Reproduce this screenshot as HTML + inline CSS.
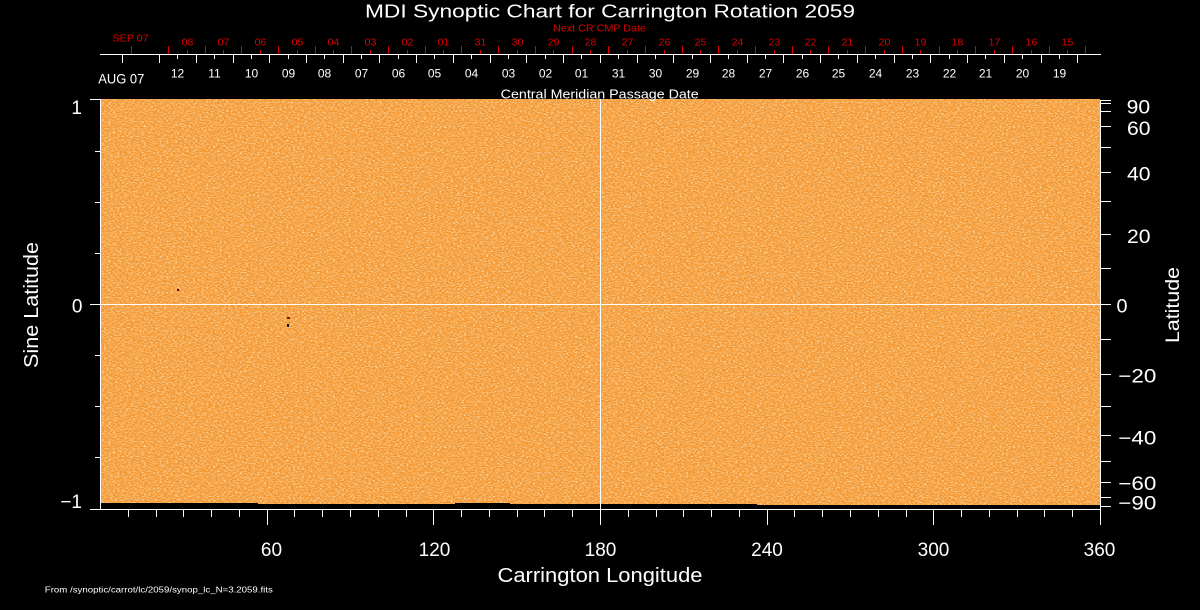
<!DOCTYPE html>
<html>
<head>
<meta charset="utf-8">
<style>
html,body{margin:0;padding:0;background:#000;}
svg{display:block;}
text{font-family:"Liberation Sans",sans-serif;}
</style>
</head>
<body>
<svg width="1200" height="610" viewBox="0 0 1200 610" xmlns="http://www.w3.org/2000/svg">
<defs>
<filter id="tex" filterUnits="userSpaceOnUse" x="101" y="99" width="999" height="406" color-interpolation-filters="sRGB">
<feTurbulence type="fractalNoise" baseFrequency="0.45 0.8" numOctaves="3" seed="7" result="t"/>
<feColorMatrix in="t" type="matrix" values="0 0 0 0 0.99  0 0 0 0 0.84  0 0 0 0 0.62  2.6 0 0 0 -1.05" result="l"/>
<feFlood flood-color="#f3952f" result="o"/>
<feComposite in="l" in2="o" operator="over"/>
</filter>
</defs>
<rect width="1200" height="610" fill="#000"/>

<!-- image -->
<rect x="101" y="99" width="999" height="406" fill="#f5a64d" filter="url(#tex)"/>
<rect x="101" y="503" width="157" height="6" fill="#000"/>
<rect x="258" y="504" width="197" height="5" fill="#000"/>
<rect x="455" y="503" width="55" height="6" fill="#000"/>
<rect x="510" y="504" width="247" height="5" fill="#000"/>
<rect x="757" y="505" width="343" height="4" fill="#000"/>
<rect x="177" y="289" width="2" height="2" fill="#5a0c00"/>
<rect x="287" y="317" width="3" height="2" fill="#8a1000"/>
<rect x="287" y="324" width="2" height="3" fill="#111"/>

<!-- grid lines -->
<g stroke="#fff" stroke-width="1" fill="none">
<path d="M600.5 99V509"/>
<path d="M100 304.5H1100"/>
<path d="M100.5 99V509.5"/>
<path d="M1100.5 100V525"/>
<path d="M90 509.5H1101"/>
<path d="M90 99.5H100 M90 304.5H100 M95 151.5H100 M95 202.5H100 M95 253.5H100 M95 355.5H100 M95 406.5H100 M95 457.5H100"/>
<path d="M1101 100.5h10 M1101 103.5h10 M1101 111.5h10 M1101 126.5h10 M1101 147.5h10 M1101 172.5h10 M1101 201.5h10 M1101 234.5h10 M1101 268.5h10 M1101 304.5h10 M1101 339.5h10 M1101 374.5h10 M1101 406.5h10 M1101 435.5h10 M1101 461.5h10 M1101 482.5h10 M1101 497.5h10 M1101 506.5h10"/>
<path d="M128.5 510v7 M156.5 510v7 M183.5 510v7 M211.5 510v7 M239.5 510v7 M267.5 510v15 M294.5 510v7 M322.5 510v7 M350.5 510v7 M378.5 510v7 M406.5 510v7 M433.5 510v15 M461.5 510v7 M489.5 510v7 M517.5 510v7 M544.5 510v7 M572.5 510v7 M600.5 510v15 M628.5 510v7 M656.5 510v7 M683.5 510v7 M711.5 510v7 M739.5 510v7 M767.5 510v15 M794.5 510v7 M822.5 510v7 M850.5 510v7 M878.5 510v7 M906.5 510v7 M933.5 510v15 M961.5 510v7 M989.5 510v7 M1017.5 510v7 M1044.5 510v7 M1072.5 510v7"/>
<path d="M100 54.5H1101"/>
<path d="M122.5 55v8 M159.5 55v8 M196.5 55v8 M233.5 55v8 M269.5 55v8 M306.5 55v8 M343.5 55v8 M379.5 55v8 M416.5 55v8 M453.5 55v8 M490.5 55v8 M526.5 55v8 M563.5 55v8 M600.5 55v8 M637.5 55v8 M673.5 55v8 M710.5 55v8 M747.5 55v8 M783.5 55v8 M820.5 55v8 M857.5 55v8 M894.5 55v8 M930.5 55v8 M967.5 55v8 M1004.5 55v8 M1041.5 55v8 M1077.5 55v8"/>
<path d="M177.5 55v4 M214.5 55v4 M251.5 55v4 M288.5 55v4 M324.5 55v4 M361.5 55v4 M398.5 55v4 M434.5 55v4 M471.5 55v4 M508.5 55v4 M545.5 55v4 M581.5 55v4 M618.5 55v4 M655.5 55v4 M692.5 55v4 M728.5 55v4 M765.5 55v4 M802.5 55v4 M838.5 55v4 M875.5 55v4 M912.5 55v4 M949.5 55v4 M985.5 55v4 M1022.5 55v4 M1059.5 55v4"/>
</g>
<g stroke="#dd0000" stroke-width="1" fill="none">
<path d="M131.5 46v8 M168.5 46v8 M205.5 46v8 M241.5 46v8 M278.5 46v8 M315.5 46v8 M351.5 46v8 M388.5 46v8 M425.5 46v8 M461.5 46v8 M498.5 46v8 M535.5 46v8 M572.5 46v8 M608.5 46v8 M645.5 46v8 M682.5 46v8 M718.5 46v8 M755.5 46v8 M792.5 46v8 M828.5 46v8 M865.5 46v8 M902.5 46v8 M939.5 46v8 M975.5 46v8 M1012.5 46v8 M1049.5 46v8 M1085.5 46v8"/>
<path d="M187.5 50v4 M223.5 50v4 M260.5 50v4 M297.5 50v4 M333.5 50v4 M370.5 50v4 M407.5 50v4 M443.5 50v4 M480.5 50v4 M517.5 50v4 M553.5 50v4 M590.5 50v4 M627.5 50v4 M664.5 50v4 M700.5 50v4 M737.5 50v4 M774.5 50v4 M810.5 50v4 M847.5 50v4 M884.5 50v4 M920.5 50v4 M957.5 50v4 M994.5 50v4 M1031.5 50v4 M1067.5 50v4"/>
</g>

<text x="365" y="17.5" font-size="18" fill="#fff" textLength="490" lengthAdjust="spacingAndGlyphs">MDI Synoptic Chart for Carrington Rotation 2059</text>
<text x="553" y="31.7" font-size="10.5" fill="#dd0000" textLength="93" lengthAdjust="spacingAndGlyphs">Next CR CMP Date</text>
<text x="112.7" y="41.7" font-size="10" fill="#dd0000" textLength="36" lengthAdjust="spacingAndGlyphs">SEP 07</text>

<g font-size="10.5" fill="#dd0000" text-anchor="middle">
<text x="187.5" y="45.7">08</text><text x="223.5" y="45.7">07</text><text x="260.5" y="45.7">06</text><text x="297.5" y="45.7">05</text><text x="333.5" y="45.7">04</text><text x="370.5" y="45.7">03</text><text x="407.5" y="45.7">02</text><text x="443.5" y="45.7">01</text><text x="480.5" y="45.7">31</text><text x="517.5" y="45.7">30</text><text x="553.5" y="45.7">29</text><text x="590.5" y="45.7">28</text><text x="627.5" y="45.7">27</text><text x="664.5" y="45.7">26</text><text x="700.5" y="45.7">25</text><text x="737.5" y="45.7">24</text><text x="774.5" y="45.7">23</text><text x="810.5" y="45.7">22</text><text x="847.5" y="45.7">21</text><text x="884.5" y="45.7">20</text><text x="920.5" y="45.7">19</text><text x="957.5" y="45.7">18</text><text x="994.5" y="45.7">17</text><text x="1031.5" y="45.7">16</text><text x="1067.5" y="45.7">15</text>
</g>

<text x="98.3" y="83.3" font-size="14" fill="#fff" textLength="46" lengthAdjust="spacingAndGlyphs">AUG 07</text>
<g font-size="12" fill="#fff" text-anchor="middle">
<text x="177.5" y="77.7">12</text><text x="214.5" y="77.7">11</text><text x="251.5" y="77.7">10</text><text x="288.5" y="77.7">09</text><text x="324.5" y="77.7">08</text><text x="361.5" y="77.7">07</text><text x="398.5" y="77.7">06</text><text x="434.5" y="77.7">05</text><text x="471.5" y="77.7">04</text><text x="508.5" y="77.7">03</text><text x="545.5" y="77.7">02</text><text x="581.5" y="77.7">01</text><text x="618.5" y="77.7">31</text><text x="655.5" y="77.7">30</text><text x="692.5" y="77.7">29</text><text x="728.5" y="77.7">28</text><text x="765.5" y="77.7">27</text><text x="802.5" y="77.7">26</text><text x="838.5" y="77.7">25</text><text x="875.5" y="77.7">24</text><text x="912.5" y="77.7">23</text><text x="949.5" y="77.7">22</text><text x="985.5" y="77.7">21</text><text x="1022.5" y="77.7">20</text><text x="1059.5" y="77.7">19</text>
</g>
<text x="500.7" y="98.5" font-size="12.5" fill="#fff" textLength="198" lengthAdjust="spacingAndGlyphs">Central Meridian Passage Date</text>

<g font-size="19" fill="#fff" text-anchor="end">
<text x="82" y="114">1</text>
<text x="82.5" y="312.7">0</text>
<text x="82" y="508">−1</text>
</g>
<text transform="translate(38,305) rotate(-90)" font-size="20" fill="#fff" text-anchor="middle" textLength="126" lengthAdjust="spacingAndGlyphs">Sine Latitude</text>

<g font-size="19" fill="#fff">
<text x="1126.7" y="113.5" textLength="23.5" lengthAdjust="spacingAndGlyphs">90</text>
<text x="1127" y="135" textLength="23.5" lengthAdjust="spacingAndGlyphs">60</text>
<text x="1127" y="180.7" textLength="23.5" lengthAdjust="spacingAndGlyphs">40</text>
<text x="1127" y="243" textLength="23.5" lengthAdjust="spacingAndGlyphs">20</text>
<text x="1116.5" y="312.7" textLength="11" lengthAdjust="spacingAndGlyphs">0</text>
<text x="1118.3" y="382.7" textLength="38" lengthAdjust="spacingAndGlyphs">−20</text>
<text x="1118.3" y="444.3" textLength="38" lengthAdjust="spacingAndGlyphs">−40</text>
<text x="1118.3" y="490" textLength="38" lengthAdjust="spacingAndGlyphs">−60</text>
<text x="1118.3" y="509.3" textLength="38" lengthAdjust="spacingAndGlyphs">−90</text>
</g>
<text transform="translate(1179,305) rotate(-90)" font-size="19" fill="#fff" text-anchor="middle" textLength="76" lengthAdjust="spacingAndGlyphs">Latitude</text>

<g font-size="19" fill="#fff" text-anchor="middle">
<text x="271.5" y="556">60</text>
<text x="434.5" y="556">120</text>
<text x="600.5" y="556">180</text>
<text x="767" y="556">240</text>
<text x="933.5" y="556">300</text>
<text x="1099.5" y="556">360</text>
</g>
<text x="497.5" y="582" font-size="20" fill="#fff" textLength="205" lengthAdjust="spacingAndGlyphs">Carrington Longitude</text>
<text x="44.8" y="592.3" font-size="8.5" fill="#fff" textLength="228" lengthAdjust="spacingAndGlyphs">From /synoptic/carrot/lc/2059/synop_lc_N=3.2059.fits</text>
</svg>
</body>
</html>
